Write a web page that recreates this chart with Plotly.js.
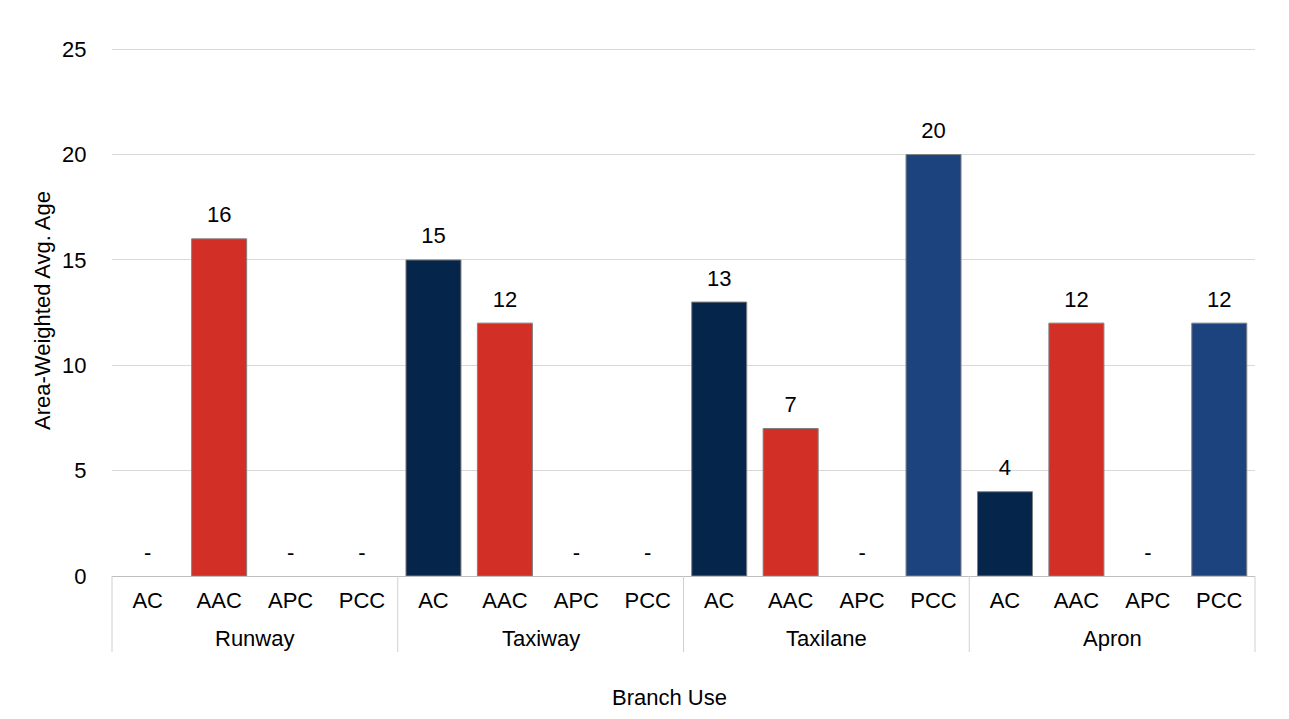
<!DOCTYPE html>
<html>
<head>
<meta charset="utf-8">
<script src="https://cdn.plot.ly/plotly-3.0.1.min.js"></script>
<style>html,body{margin:0;padding:0;background:#fff;}#chart{width:1289px;height:719px;}</style>
</head>
<body>
<div id="chart"></div>
<script>
// Branch use groups and pavement types
const branches = ["Runway", "Taxiway", "Taxilane", "Apron"];
const surfaces = ["AC", "AAC", "APC", "PCC"];

// Area-weighted average age per branch, in surface order (null = no pavement)
const runwayAge   = [null, 16, null, null];
const taxiwayAge  = [15, 12, null, null];
const taxilaneAge = [13, 7, null, 20];
const apronAge    = [4, 12, null, 12];

const surfaceColors = { AC: "#06254b", AAC: "#d22f27", APC: "#9e9e9e", PCC: "#1d437e" };

const ageByBranch = [runwayAge, taxiwayAge, taxilaneAge, apronAge];

// one slot per branch/surface pair
const slotKeys = [], slotNames = [], yVal = [], colors = [], labelY = [], labels = [];
branches.forEach((b, i) => {
  surfaces.forEach((s, j) => {
    const v = ageByBranch[i][j];
    slotKeys.push(b + " " + s);
    slotNames.push(s);
    yVal.push(v);
    colors.push(surfaceColors[s]);
    labelY.push(v === null ? 0 : v);
    labels.push(v === null ? "-" : String(v));
  });
});

const FAMILY = "Liberation Sans, Arial, sans-serif";
const f = (size) => ({ family: FAMILY, size: size, color: "#000" });

const W = 1289, H = 719;
const M = { l: 112, r: 34, t: 45, b: 143 };
const plotH = H - M.t - M.b;

const bars = {
  type: "bar",
  x: slotKeys,
  y: yVal,
  marker: { color: colors, line: { color: "#808080", width: 1 } },
  hovertemplate: "%{x}: %{y}<extra></extra>"
};

// value labels sit above each bar; a dash marks branches without that surface
const valueLabels = {
  type: "scatter",
  mode: "markers+text",
  x: slotKeys,
  y: labelY,
  text: labels,
  textposition: "top center",
  textfont: f(22),
  marker: { size: 16, color: "rgba(0,0,0,0)" },
  cliponaxis: false,
  hoverinfo: "skip"
};

// branch names centred under their four surfaces, with dividers between branches
const n = surfaces.length;
const annotations = branches.map((b, i) => ({
  text: b, xref: "x", yref: "paper",
  x: i * n + (n - 1) / 2, y: 0, yshift: -62,
  xanchor: "center", yanchor: "middle",
  showarrow: false, font: f(22)
}));
// x-axis title, set slightly left of the plot centre
annotations.push({
  text: "Branch Use", xref: "paper", yref: "paper",
  x: 0.4875, y: 0, yshift: -121,
  xanchor: "center", yanchor: "middle",
  showarrow: false, font: f(22)
});

const dividers = [];
for (let i = 0; i <= branches.length; i++) {
  dividers.push({
    type: "line", xref: "paper", yref: "paper",
    x0: i / branches.length, x1: i / branches.length,
    y0: 0, y1: -76 / plotH,
    line: { color: "#d0d0d0", width: 1 }
  });
}

const layout = {
  width: W, height: H,
  margin: M,
  paper_bgcolor: "#fff", plot_bgcolor: "#fff",
  showlegend: false,
  bargap: 0.23,
  font: f(22),
  xaxis: {
    type: "category",
    range: [-0.5, slotKeys.length - 0.5],
    tickmode: "array", tickvals: slotKeys, ticktext: slotNames,
    showline: true, linecolor: "#bfbfbf", linewidth: 1,
    showgrid: false,
    ticks: "outside", ticklen: 5, tickcolor: "rgba(0,0,0,0)",
    tickfont: f(22)
  },
  yaxis: {
    range: [0, 25.2], dtick: 5, tick0: 0,
    showgrid: true, gridcolor: "#d9d9d9", gridwidth: 1,
    zeroline: false, showline: false,
    ticks: "outside", ticklen: 20, tickcolor: "rgba(0,0,0,0)",
    tickfont: f(22),
    title: { text: "Area-Weighted Avg. Age", font: f(22), standoff: 5 }
  },
  annotations: annotations,
  shapes: dividers
};

Plotly.newPlot("chart", [bars, valueLabels], layout, { displayModeBar: false, responsive: false });
</script>
</body>
</html>
